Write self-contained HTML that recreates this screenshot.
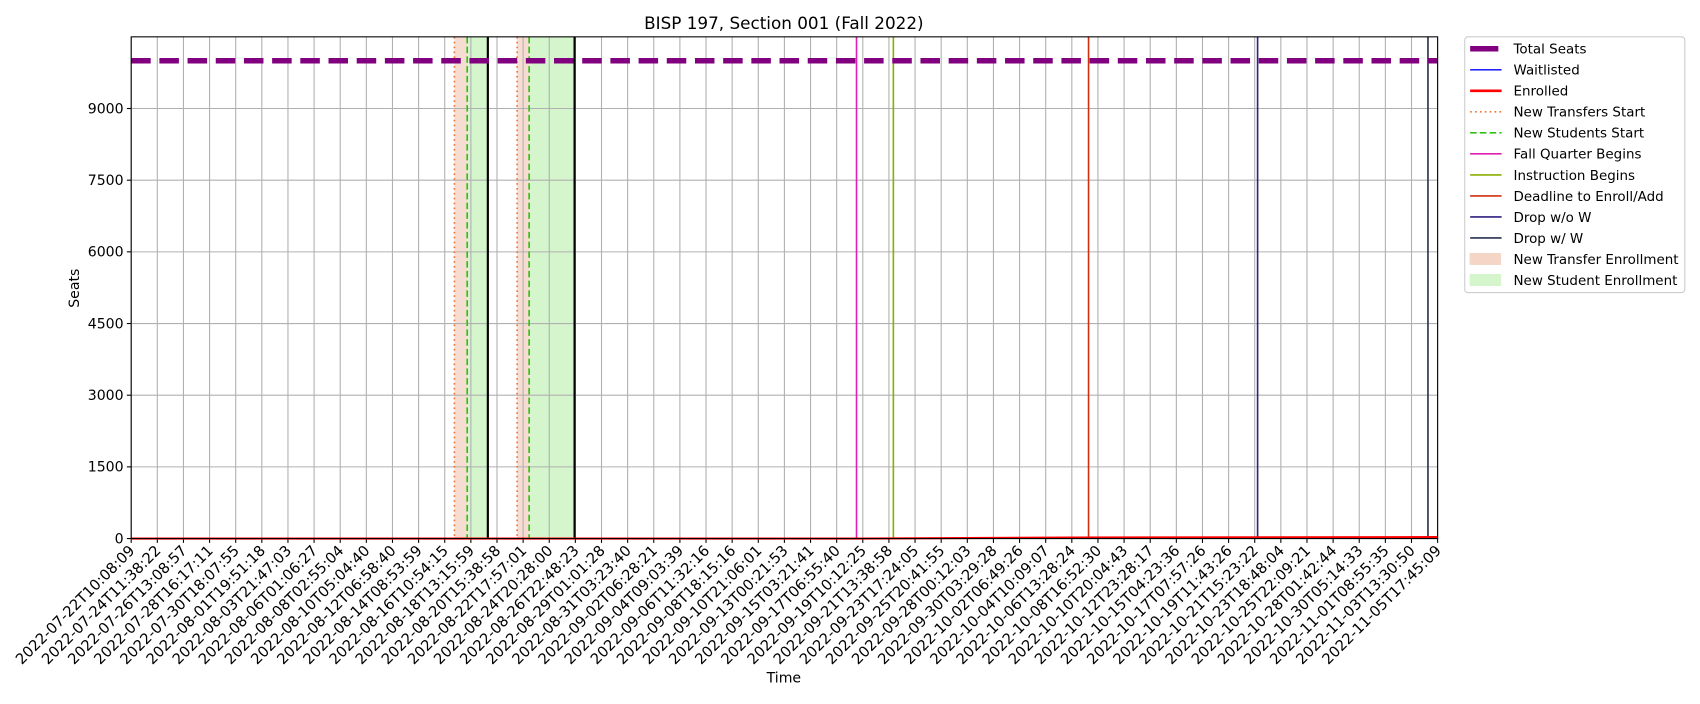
<!DOCTYPE html>
<html><head><meta charset="utf-8"><style>
body{margin:0;background:#fff;font-family:"DejaVu Sans","Liberation Sans",sans-serif;}
svg text{font-family:"DejaVu Sans","Liberation Sans",sans-serif;}
</style></head><body>
<svg id="chart" width="1700" height="700" viewBox="0 0 1568 646" preserveAspectRatio="none" xmlns="http://www.w3.org/2000/svg">
<rect width="1568" height="646" fill="#fff"/>
<text x="723" y="27" font-size="15.5" text-anchor="middle">BISP 197, Section 001 (Fall 2022)</text>
<g id="plot"></g>
<text x="723" y="630" font-size="13" text-anchor="middle">Time</text>
<text x="0" y="0" font-size="13" text-anchor="middle" transform="translate(73,266) rotate(-90)">Seats</text>
<g id="legend"></g>
</svg>
<script>
const xLabels=["2022-07-22T10:08:09","2022-07-24T11:38:22","2022-07-26T13:08:57","2022-07-28T16:17:11","2022-07-30T18:07:55","2022-08-01T19:51:18","2022-08-03T21:47:03","2022-08-06T01:06:27","2022-08-08T02:55:04","2022-08-10T05:04:40","2022-08-12T06:58:40","2022-08-14T08:53:59","2022-08-16T10:54:15","2022-08-18T13:15:59","2022-08-20T15:38:58","2022-08-22T17:57:01","2022-08-24T20:28:00","2022-08-26T22:48:23","2022-08-29T01:01:28","2022-08-31T03:23:40","2022-09-02T06:28:21","2022-09-04T09:03:39","2022-09-06T11:32:16","2022-09-08T18:15:16","2022-09-10T21:06:01","2022-09-13T00:21:53","2022-09-15T03:21:41","2022-09-17T06:55:40","2022-09-19T10:12:25","2022-09-21T13:38:58","2022-09-23T17:24:05","2022-09-25T20:41:55","2022-09-28T00:12:03","2022-09-30T03:29:28","2022-10-02T06:49:26","2022-10-04T10:09:07","2022-10-06T13:28:24","2022-10-08T16:52:30","2022-10-10T20:04:43","2022-10-12T23:28:17","2022-10-15T04:23:36","2022-10-17T07:57:26","2022-10-19T11:43:26","2022-10-21T15:23:22","2022-10-23T18:48:04","2022-10-25T22:09:21","2022-10-28T01:42:44","2022-10-30T05:14:33","2022-11-01T08:55:35","2022-11-03T13:30:50","2022-11-05T17:45:09"];
const yTicks=[0,1500,3000,4500,6000,7500,9000];
const totalSeats=10000;
const enrolledIdx=[0,28,36,50];
const enrolledVals=[0,0,20,30];
const transferStarts=[12.37,14.77];
const studentStarts=[12.86,15.23];
const studentEnds=[13.65,16.97];
const events=[{n:"fall-quarter-begins",x:27.76,c:"#e020b0"},{n:"instruction-begins",x:29.17,c:"#8ab000"},{n:"deadline-enroll-add",x:36.64,c:"#d03010"},{n:"drop-without-w",x:43.11,c:"#302080"},{n:"drop-with-w",x:49.63,c:"#283050"}];
const L=121,R=1326,T=34,B=497,yMax=10500;
const xs=i=>L+(R-L)*i/50, ys=v=>B-(B-T)*v/yMax;
const NS="http://www.w3.org/2000/svg";
const plot=document.getElementById('plot');
function mk(t,a,p){const e=document.createElementNS(NS,t);for(const k in a)e.setAttribute(k,a[k]);(p||plot).appendChild(e);return e;}
transferStarts.forEach((s,i)=>{
 const r1=mk('rect',{x:xs(s),y:T,width:xs(studentStarts[i])-xs(s),height:B-T,fill:"#f5d5c5",opacity:0.8});
 
 
 const r2=mk('rect',{x:xs(studentStarts[i]),y:T,width:xs(studentEnds[i])-xs(studentStarts[i]),height:B-T,fill:"#d5f5cc"});
 
 
});
xLabels.forEach((l,i)=>{
 const g=mk('line',{x1:xs(i),x2:xs(i),y1:T,y2:B,stroke:"#b0b0b0","stroke-width":1});
 
 
 mk('line',{x1:xs(i),x2:xs(i),y1:B,y2:B+4,stroke:"#000"});
 const t=mk('text',{x:0,y:0,"font-size":"13.6","text-anchor":"end",transform:`translate(${xs(i)+4},${B+12}) rotate(-45)`});
 t.textContent=l;
 
 
});
yTicks.forEach(v=>{
 const g=mk('line',{x1:L,x2:R,y1:ys(v),y2:ys(v),stroke:"#b0b0b0"});
 
 
 mk('line',{x1:L-4,x2:L,y1:ys(v),y2:ys(v),stroke:"#000"});
 const t=mk('text',{x:L-7,y:ys(v)+4.5,"font-size":"13","text-anchor":"end"});
 t.textContent=v;
 
 
});
transferStarts.forEach(s=>{const e=mk('line',{x1:xs(s),x2:xs(s),y1:T,y2:B,stroke:"#f07030","stroke-width":1.5,"stroke-dasharray":"1.5,3"});
 
 });
studentStarts.forEach(s=>{const e=mk('line',{x1:xs(s),x2:xs(s),y1:T,y2:B,stroke:"#30c010","stroke-width":1.5,"stroke-dasharray":"6,3"});
 
 });
studentEnds.forEach(s=>{const e=mk('line',{x1:xs(s),x2:xs(s),y1:T,y2:B,stroke:"#000","stroke-width":2});
 
 });
events.forEach(ev=>{const e=mk('line',{x1:xs(ev.x),x2:xs(ev.x),y1:T,y2:B,stroke:ev.c,"stroke-width":1.5});
 
 });
const ts=mk('line',{x1:L,x2:R,y1:ys(totalSeats),y2:ys(totalSeats),stroke:"#800080","stroke-width":5,"stroke-dasharray":"18,8"});


const en=mk('polyline',{points:enrolledIdx.map((x,i)=>xs(x)+","+ys(enrolledVals[i])).join(" "),fill:"none",stroke:"#f00","stroke-width":2});


const fr=mk('rect',{x:L,y:T,width:R-L,height:B-T,fill:"none",stroke:"#000","stroke-width":1});


const lg=document.getElementById('legend');
mk('rect',{x:1351,y:34,width:203,height:236,rx:3,fill:"#fff",stroke:"#ccc"},lg);
const items=[["Total Seats","#800080",5,"10,0","line"],["Waitlisted","#0000ff",1.3,"","line"],["Enrolled","#f00",2.5,"","line"],["New Transfers Start","#f07030",1.5,"1.5,3","line"],["New Students Start","#30c010",1.5,"6,3","line"],["Fall Quarter Begins","#e020b0",1.5,"","line"],["Instruction Begins","#8ab000",1.5,"","line"],["Deadline to Enroll/Add","#d03010",1.5,"","line"],["Drop w/o W","#302080",1.5,"","line"],["Drop w/ W","#283050",1.5,"","line"],["New Transfer Enrollment","#f5d5c5",0,"","rect"],["New Student Enrollment","#d5f5cc",0,"","rect"]];
items.forEach((it,i)=>{
 const y=45+i*19.4;
 const g=mk('g',{},lg);
 
 
 if(it[4]=="rect") mk('rect',{x:1356,y:y-5,width:28,height:10,fill:it[1],stroke:it[1]},g);
 else if(i==0) mk('line',{x1:1356,x2:1382,y1:y,y2:y,stroke:it[1],"stroke-width":it[2]},g);
 else mk('line',{x1:1356,x2:1385,y1:y,y2:y,stroke:it[1],"stroke-width":it[2],"stroke-dasharray":it[3]},g);
 const t=mk('text',{x:1396,y:y+4.5,"font-size":"12.4"},g);t.textContent=it[0];
});
</script>
</body></html>
